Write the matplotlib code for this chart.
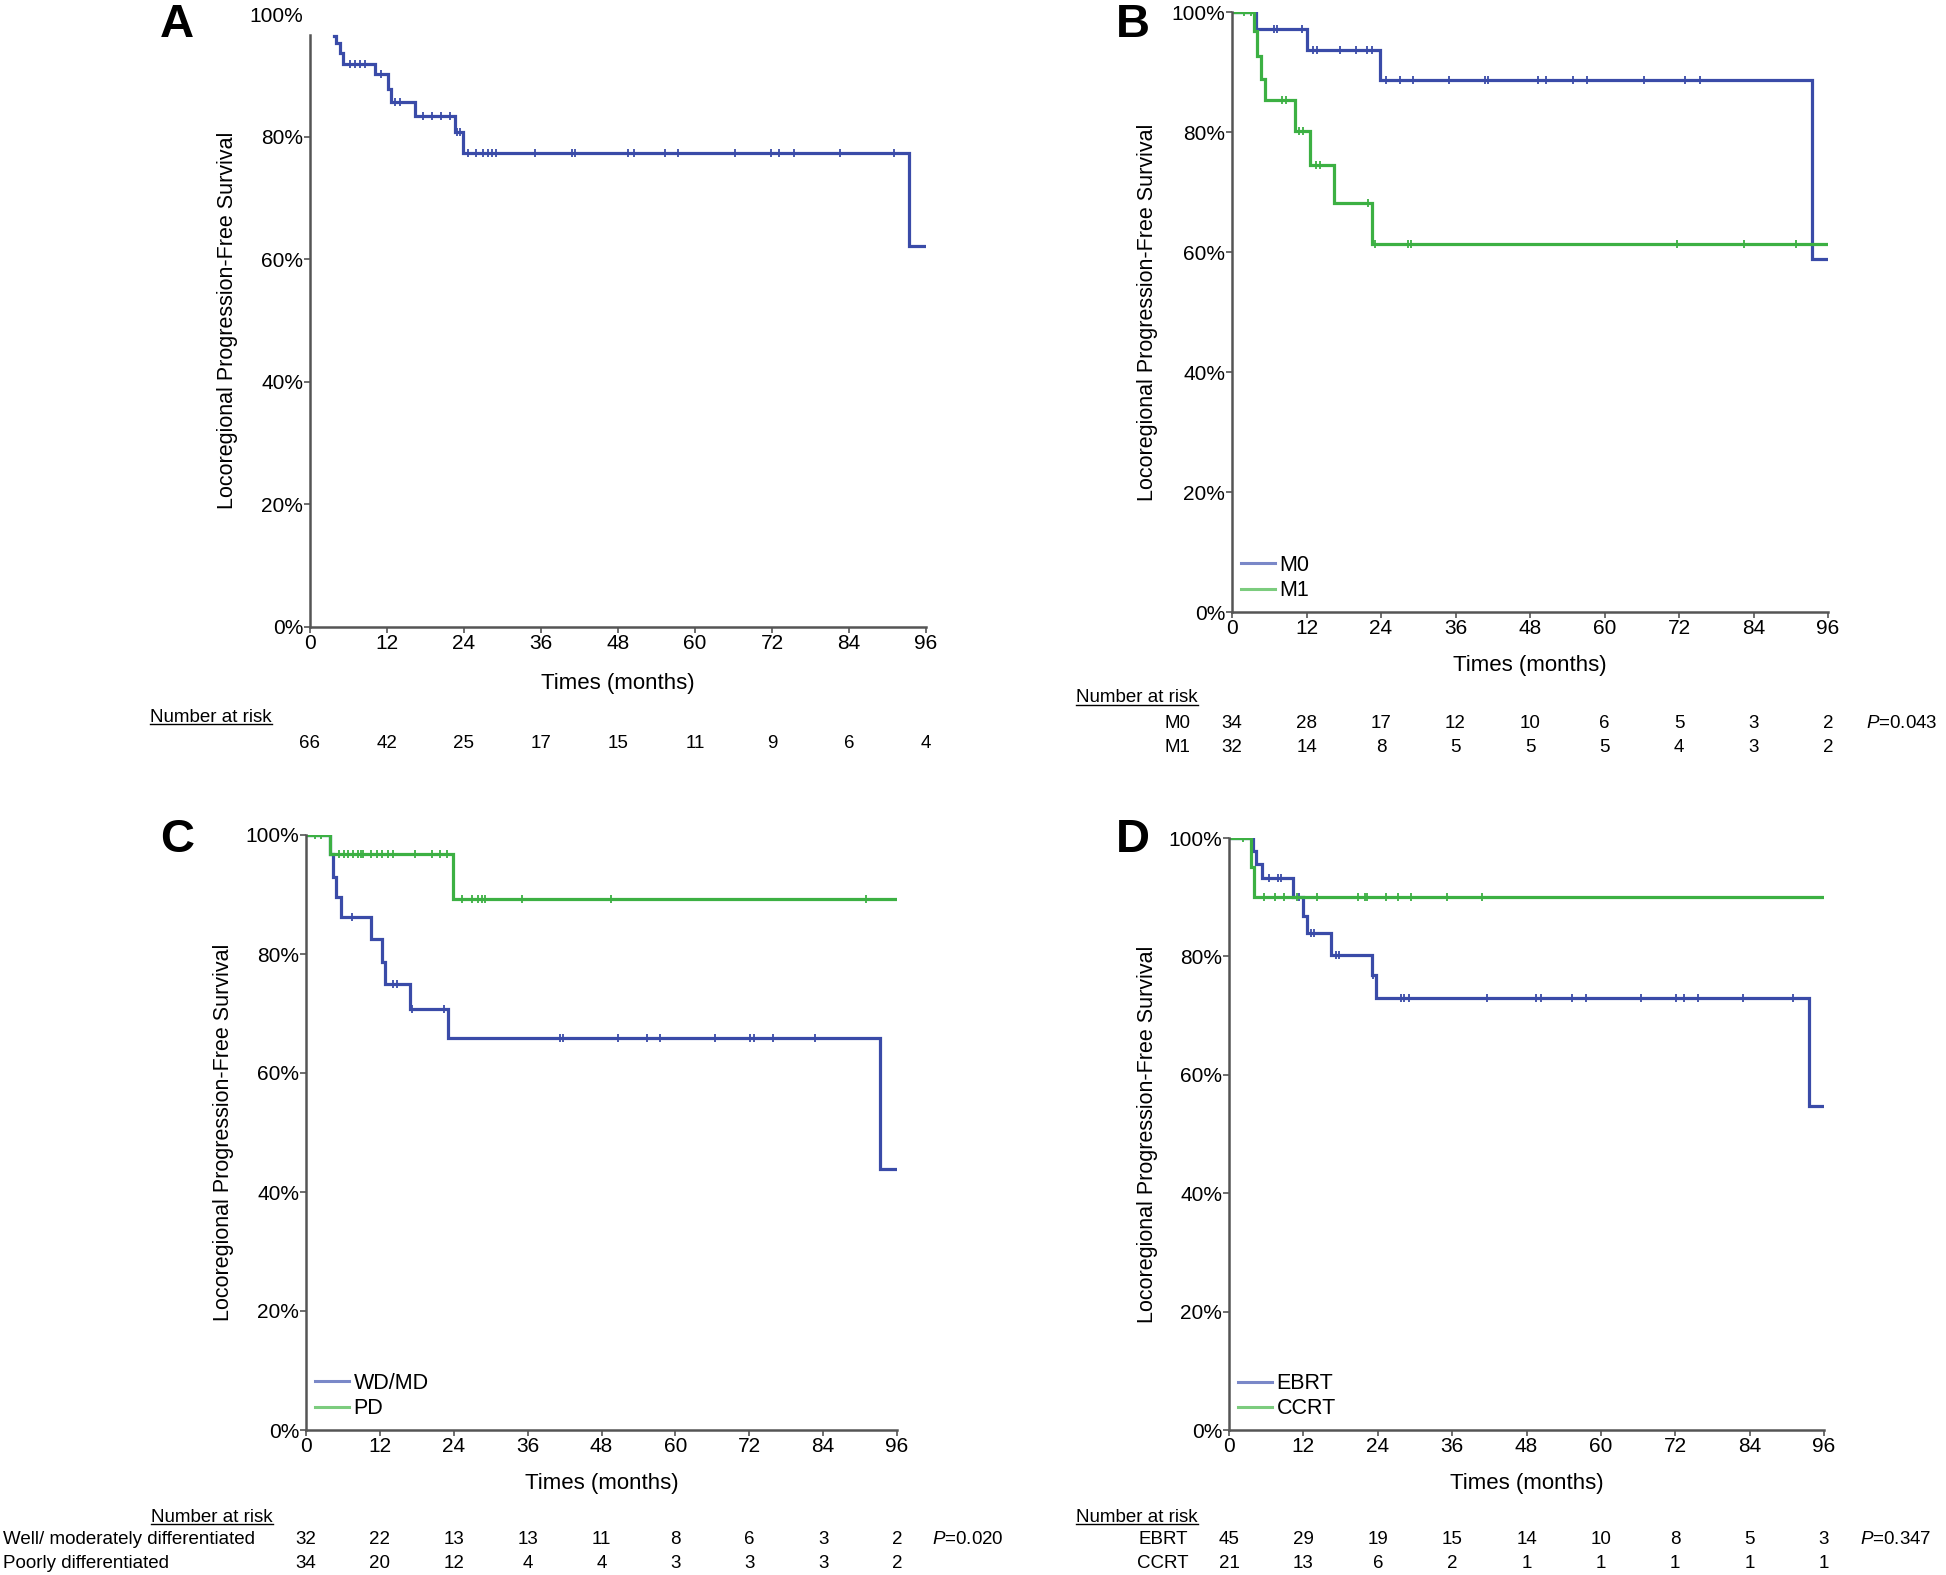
import numpy as np
import matplotlib
matplotlib.use("Agg")
import matplotlib.pyplot as plt
import matplotlib.transforms as mtransforms
from matplotlib.lines import Line2D

plt.rcParams['font.family'] = ['Liberation Sans', 'DejaVu Sans']
plt.rcParams['mathtext.fontset'] = 'custom'
plt.rcParams['mathtext.rm'] = 'Liberation Sans'
plt.rcParams['mathtext.it'] = 'Liberation Sans:italic'

BLUE = '#3a4ba8'
GREEN = '#3cb043'
BLUE_LEG = '#7a88c8'
GREEN_LEG = '#7ccc7e'
AXIS = '#555555'

W, H = 1946, 1575

# ---------------- data ----------------
months = [0, 12, 24, 36, 48, 60, 72, 84, 96]

# Panel A - all patients
a_t = [3.7, 4.1, 4.6, 5.2, 10.2, 12.2, 12.6, 16.4, 22.6, 23.8, 93.4, 96]
a_s = [0.964, 0.953, 0.937, 0.919, 0.902, 0.877, 0.857, 0.833, 0.807, 0.774, 0.621, 0.621]
a_cens = [6.2, 7.0, 7.8, 8.6, 11.0, 13.2, 14.0, 17.6, 19.0, 20.4, 21.8, 22.9, 23.4,
          24.6, 25.8, 27.0, 27.8, 28.4, 29.0, 35.0, 40.9, 41.3, 49.5, 50.5, 55.3,
          57.3, 66.2, 71.8, 73.1, 75.5, 82.6, 91.0]
a_risk = [66, 42, 25, 17, 15, 11, 9, 6, 4]

# Panel B - M stage
m0_t = [0, 3.8, 12.1, 23.9, 93.4, 96]
m0_s = [1.0, 0.972, 0.937, 0.886, 0.589, 0.589]
m0_cens = [6.8, 7.3, 11.2, 13.0, 13.7, 17.4, 20.0, 21.7, 22.6, 24.8, 27.0, 29.2,
           34.9, 40.8, 41.3, 49.3, 50.5, 55.0, 57.2, 66.3, 73.0, 75.4]
m1_t = [0, 3.6, 4.0, 4.6, 5.3, 10.2, 12.5, 16.5, 22.6, 96]
m1_s = [1.0, 0.969, 0.926, 0.889, 0.853, 0.801, 0.745, 0.682, 0.614, 0.614]
m1_cens = [2.0, 3.1, 8.1, 8.7, 10.8, 11.4, 13.6, 14.1, 21.9, 23.1, 28.3, 28.8,
           71.7, 82.5, 90.8]
m0_risk = [34, 28, 17, 12, 10, 6, 5, 3, 2]
m1_risk = [32, 14, 8, 5, 5, 5, 4, 3, 2]

# Panel C - differentiation
wd_t = [0, 3.9, 4.4, 4.9, 5.7, 10.5, 12.3, 12.8, 16.9, 23.1, 93.3, 96]
wd_s = [1.0, 0.968, 0.930, 0.895, 0.863, 0.825, 0.786, 0.750, 0.708, 0.659, 0.439, 0.439]
wd_cens = [7.4, 14.1, 14.8, 17.2, 22.4, 41.3, 41.8, 50.7, 55.4, 57.5, 66.4, 72.1,
           72.8, 75.8, 82.7]
pd_t = [0, 3.9, 23.9, 96]
pd_s = [1.0, 0.968, 0.893, 0.893]
pd_cens = [1.5, 2.5, 5.4, 6.1, 6.9, 7.6, 8.4, 8.9, 9.2, 10.5, 11.5, 12.3, 13.3, 14.1,
           17.7, 20.5, 21.7, 22.9, 25.3, 26.9, 27.9, 28.6, 29.0, 35.1, 49.5, 91.0]
wd_risk = [32, 22, 13, 13, 11, 8, 6, 3, 2]
pd_risk = [34, 20, 12, 4, 4, 3, 3, 3, 2]

# Panel D - treatment
ebrt_t = [0, 3.8, 4.4, 5.4, 10.4, 11.9, 12.6, 16.5, 23.0, 23.7, 93.6, 96]
ebrt_s = [1.0, 0.978, 0.956, 0.933, 0.900, 0.869, 0.839, 0.802, 0.769, 0.730, 0.548, 0.548]
ebrt_cens = [6.5, 7.9, 8.4, 11.3, 13.3, 13.7, 17.2, 17.8, 23.2, 27.8, 28.2, 29.1,
             41.6, 49.5, 50.4, 55.3, 57.6, 66.4, 72.1, 73.4, 75.7, 82.9, 91.0]
ccrt_t = [0, 3.5, 4.0, 96]
ccrt_s = [1.0, 0.951, 0.901, 0.901]
ccrt_cens = [2.3, 5.6, 7.4, 8.8, 11.0, 14.2, 20.8, 21.9, 22.3, 25.3, 27.3, 29.3,
             35.2, 40.9]
ebrt_risk = [45, 29, 19, 15, 14, 10, 8, 5, 3]
ccrt_risk = [21, 13, 6, 2, 1, 1, 1, 1, 1]

fig = plt.figure(figsize=(W / 100, H / 100), dpi=100)


def px_axes(x0, x1, ytop, ybot):
    return fig.add_axes([x0 / W, 1 - ybot / H, (x1 - x0) / W, (ybot - ytop) / H])


def step_value(t, s, x):
    i = np.searchsorted(t, x, side='right') - 1
    return np.asarray(s)[np.clip(i, 0, len(s) - 1)]


def km(ax, t, s, cens, color):
    ax.plot(t, s, drawstyle='steps-post', color=color, lw=2.3, solid_joinstyle='miter')
    ax.plot(cens, step_value(t, s, cens), ls='none', marker='|', ms=6, mew=1.3, color=color)


def style(ax, top=1.0):
    ax.set_xlim(0, 96)
    ax.set_ylim(0, 1.0)
    ax.set_xticks(months)
    ax.set_yticks([0, 0.2, 0.4, 0.6, 0.8, 1.0])
    ax.set_yticklabels(['0%', '20%', '40%', '60%', '80%', '100%'])
    for sp in ['top', 'right']:
        ax.spines[sp].set_visible(False)
    for sp in ['left', 'bottom']:
        ax.spines[sp].set_color(AXIS)
        ax.spines[sp].set_linewidth(1.8)
    ax.spines['left'].set_bounds(0, top)
    ax.tick_params(axis='both', colors=AXIS, labelcolor='black', labelsize=15,
                   length=4, width=1.2, pad=1)
    ax.patch.set_visible(False)


def ylab(x, ax):
    pos = ax.get_position()
    fig.text(x / W, pos.y0 + pos.height / 2, 'Locoregional Progression-Free Survival',
             rotation=90, ha='center', va='center', fontsize=15.5)


def xlab(ax, y):
    pos = ax.get_position()
    fig.text(pos.x0 + pos.width / 2, 1 - y / H, 'Times (months)', ha='center',
             va='center', fontsize=16)


def risk_row(ax, y, values):
    tr = mtransforms.blended_transform_factory(ax.transData, fig.transFigure)
    for m, v in zip(months, values):
        ax.text(m, 1 - y / H, str(v), transform=tr, ha='center', va='center',
                fontsize=13.5, clip_on=False)


def ftext(x, y, s, **kw):
    kw.setdefault('fontsize', 13.5)
    kw.setdefault('va', 'center')
    return fig.text(x / W, 1 - y / H, s, **kw)


def legend(ax, labels):
    handles = [Line2D([], [], color=BLUE_LEG, lw=2.2), Line2D([], [], color=GREEN_LEG, lw=2.2)]
    ax.legend(handles, labels, loc='lower left', bbox_to_anchor=(0.015, 0.018),
              frameon=False, fontsize=15.5, handlelength=1.6, handletextpad=0.2,
              labelspacing=0.2, borderaxespad=0, borderpad=0)


nar_texts = []

# ---------------- Panel A ----------------
axA = px_axes(310, 926, 14, 627)
km(axA, a_t, a_s, a_cens, BLUE)
style(axA, top=0.965)
axA.yaxis.get_major_ticks()[-1].tick1line.set_visible(False)
ylab(227, axA)
xlab(axA, 683)
nar_texts.append(ftext(150, 717, 'Number at risk', ha='left'))
risk_row(axA, 743, a_risk)
ftext(177, 25, 'A', fontsize=34, fontweight='bold', ha='center')

# ---------------- Panel B ----------------
axB = px_axes(1232, 1828, 12, 612)
km(axB, m0_t, m0_s, m0_cens, BLUE)
km(axB, m1_t, m1_s, m1_cens, GREEN)
style(axB)
legend(axB, ['M0', 'M1'])
ylab(1148, axB)
xlab(axB, 665)
nar_texts.append(ftext(1076, 698, 'Number at risk', ha='left'))
ftext(1190, 723, 'M0', ha='right')
ftext(1190, 747, 'M1', ha='right')
risk_row(axB, 723, m0_risk)
risk_row(axB, 747, m1_risk)
ftext(1866, 723, r'$\mathit{P}$=0.043', ha='left')
ftext(1133, 25, 'B', fontsize=34, fontweight='bold', ha='center')

# ---------------- Panel C ----------------
axC = px_axes(306, 897, 835, 1430)
km(axC, wd_t, wd_s, wd_cens, BLUE)
km(axC, pd_t, pd_s, pd_cens, GREEN)
style(axC)
legend(axC, ['WD/MD', 'PD'])
ylab(223, axC)
xlab(axC, 1483)
nar_texts.append(ftext(273, 1517, 'Number at risk', ha='right'))
ftext(3, 1540, 'Well/ moderately differentiated', ha='left')
ftext(3, 1563, 'Poorly differentiated', ha='left')
risk_row(axC, 1540, wd_risk)
risk_row(axC, 1563, pd_risk)
ftext(932, 1540, r'$\mathit{P}$=0.020', ha='left')
ftext(177, 840, 'C', fontsize=34, fontweight='bold', ha='center')

# ---------------- Panel D ----------------
axD = px_axes(1229, 1824, 838, 1430)
km(axD, ebrt_t, ebrt_s, ebrt_cens, BLUE)
km(axD, ccrt_t, ccrt_s, ccrt_cens, GREEN)
style(axD)
legend(axD, ['EBRT', 'CCRT'])
ylab(1148, axD)
xlab(axD, 1483)
nar_texts.append(ftext(1076, 1517, 'Number at risk', ha='left'))
ftext(1188, 1540, 'EBRT', ha='right')
ftext(1188, 1563, 'CCRT', ha='right')
risk_row(axD, 1540, ebrt_risk)
risk_row(axD, 1563, ccrt_risk)
ftext(1860, 1540, r'$\mathit{P}$=0.347', ha='left')
ftext(1133, 840, 'D', fontsize=34, fontweight='bold', ha='center')

# underline the "Number at risk" headers
fig.canvas.draw()
renderer = fig.canvas.get_renderer()
for t in nar_texts:
    bb = t.get_window_extent(renderer).transformed(fig.transFigure.inverted())
    y = bb.y0 + 0.1 * bb.height
    fig.add_artist(Line2D([bb.x0, bb.x1], [y, y], transform=fig.transFigure,
                          color='black', lw=1.0))

fig.savefig('out.png', dpi=100, facecolor='white')
